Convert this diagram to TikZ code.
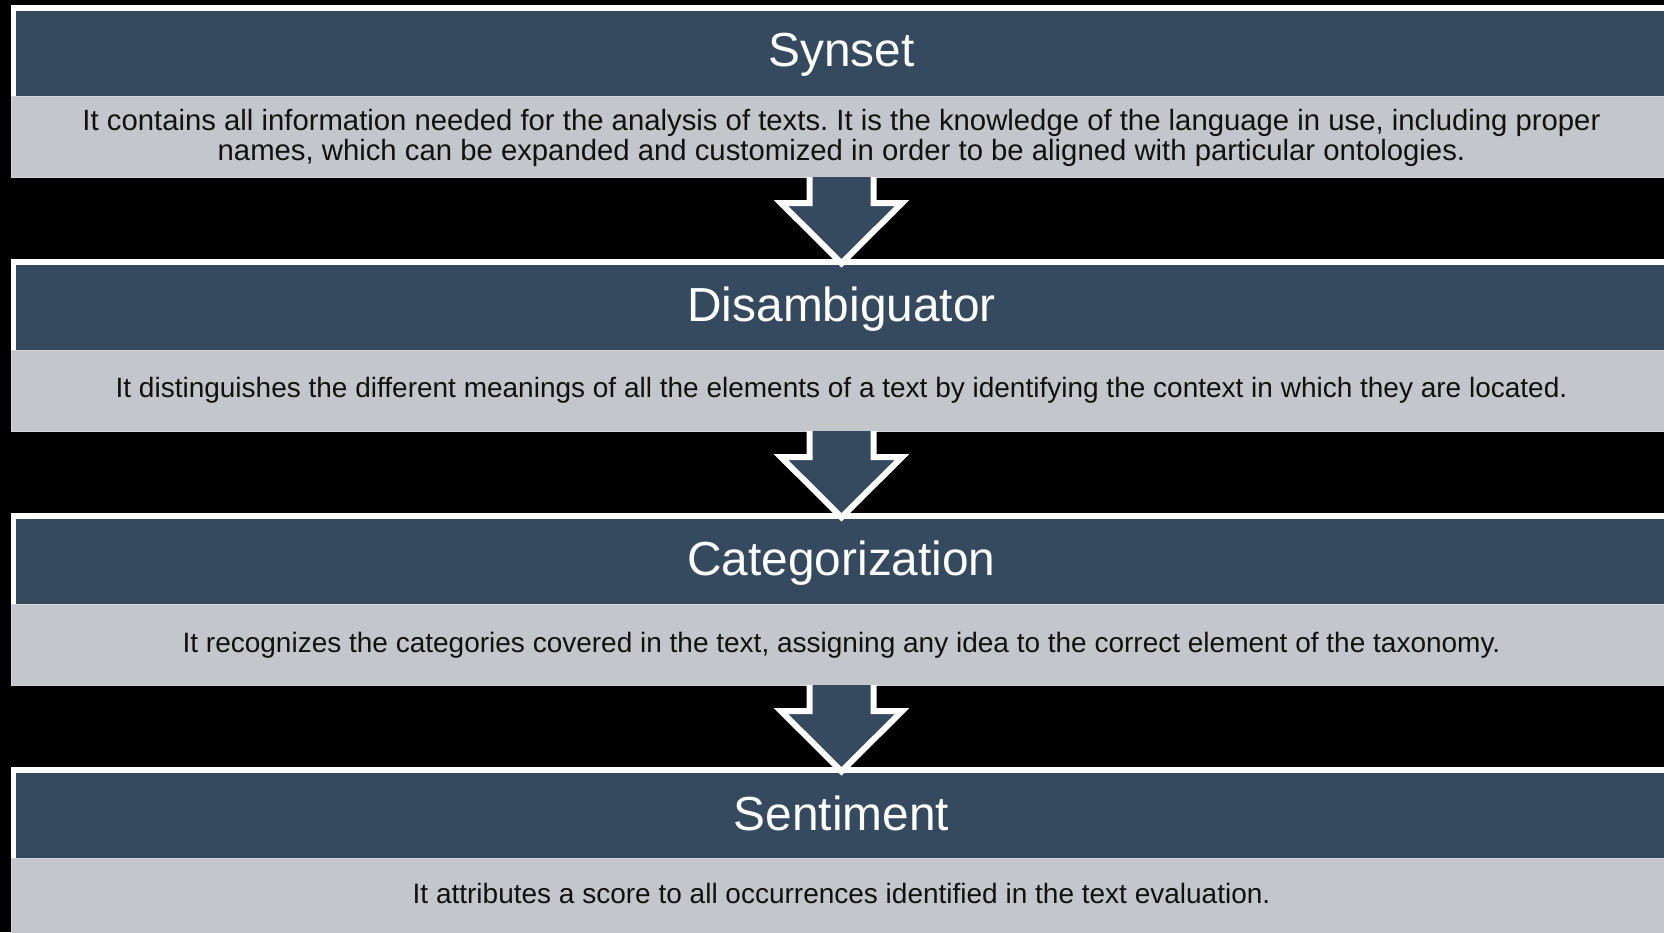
\documentclass[tikz,border=0pt]{standalone}
\usepackage{fontspec}
\setmainfont{Liberation Sans}
\frenchspacing
\definecolor{bandblue}{HTML}{354A5F}
\definecolor{bodygray}{HTML}{C3C6CA}
\definecolor{graybord}{HTML}{D3D5D7}
\definecolor{bodytext}{HTML}{111111}
\tikzset{
  px/.style={x=0.5pt,y=-0.5pt},
  frame/.style={fill=white,draw=none},
  band/.style={fill=bandblue,draw=none},
  bodybox/.style={fill=bodygray,draw=graybord,line width=0.5pt},
  titletext/.style={text=white,font=\fontsize{23.9}{28}\selectfont,anchor=base,inner sep=0pt},
  bodytextstyle/.style={text=bodytext,font=\fontsize{14}{15.5}\selectfont,align=center,inner sep=0pt},
  bigbodytext/.style={text=bodytext,font=\fontsize{14.65}{15.1}\selectfont,align=center,inner sep=0pt},
  arrowfill/.style={fill=bandblue,draw=none},
  arrowline/.style={draw=white,line width=3pt,line join=miter}
}
% #1 top y, #2 name, #3 title, #4 title baseline offset, #5 body node options, #6 body y offset, #7 body
\newcommand{\stagebox}[7]{%
  \fill[frame] (11,#1) rectangle (1700,#1+91);
  \fill[band] (16,#1+5.4) rectangle (1700,#1+90.7);
  \draw[bodybox] (11,#1+90.7) rectangle (1700,#1+171.7);
  \node[titletext] (#2t) at (841.5,#1+#4) {#3};
  \node[#5] (#2b) at (841.5,#1+#6) {#7};
  \coordinate (#2bot) at (841.5,#1+171.7);
  \coordinate (#2top) at (841.5,#1);
}
\newcommand{\stagearrow}[2]{%
  % #1 start coordinate name (bottom of upper box), #2 tip coordinate name
  \fill[arrowfill] ([xshift=-16pt]#1) -- ([xshift=-16pt,yshift=-13pt]#1) -- ([xshift=-30.3pt,yshift=-13pt]#1) -- ([yshift=-2pt]#2) -- ([xshift=30.3pt,yshift=-13pt]#1) -- ([xshift=16pt,yshift=-13pt]#1) -- ([xshift=16pt]#1) -- cycle;
  \draw[arrowline] ([xshift=-16pt]#1) -- ([xshift=-16pt,yshift=-13pt]#1) -- ([xshift=-30.3pt,yshift=-13pt]#1) -- ([yshift=-2pt]#2) -- ([xshift=30.3pt,yshift=-13pt]#1) -- ([xshift=16pt,yshift=-13pt]#1) -- ([xshift=16pt]#1);
}
\begin{document}
\begin{tikzpicture}[px]
\useasboundingbox (0,0) rectangle (1664,932);
\clip (0,0) rectangle (1664,932);
\fill[black] (0,0) rectangle (1664,932);
\stagebox{5.3}{s1}{Synset}{61.4}{bigbodytext,anchor=center}{132.8}{It contains all information needed for the analysis of texts. It is the knowledge of the language in use, including proper\\names, which can be expanded and customized in order to be aligned with particular ontologies.}
\stagebox{259.3}{s2}{Disambiguator}{62.4}{bodytextstyle,anchor=base}{138.4}{It distinguishes the different meanings of all the elements of a text by identifying the context in which they are located.}
\stagebox{513.3}{s3}{Categorization}{61.7}{bodytextstyle,anchor=base}{139.4}{It recognizes the categories covered in the text, assigning any idea to the correct element of the taxonomy.}
\stagebox{767.3}{s4}{Sentiment}{62.7}{bodytextstyle,anchor=base}{136}{It attributes a score to all occurrences identified in the text evaluation.}
\stagearrow{s1bot}{s2top}
\stagearrow{s2bot}{s3top}
\stagearrow{s3bot}{s4top}
\end{tikzpicture}
\end{document}
